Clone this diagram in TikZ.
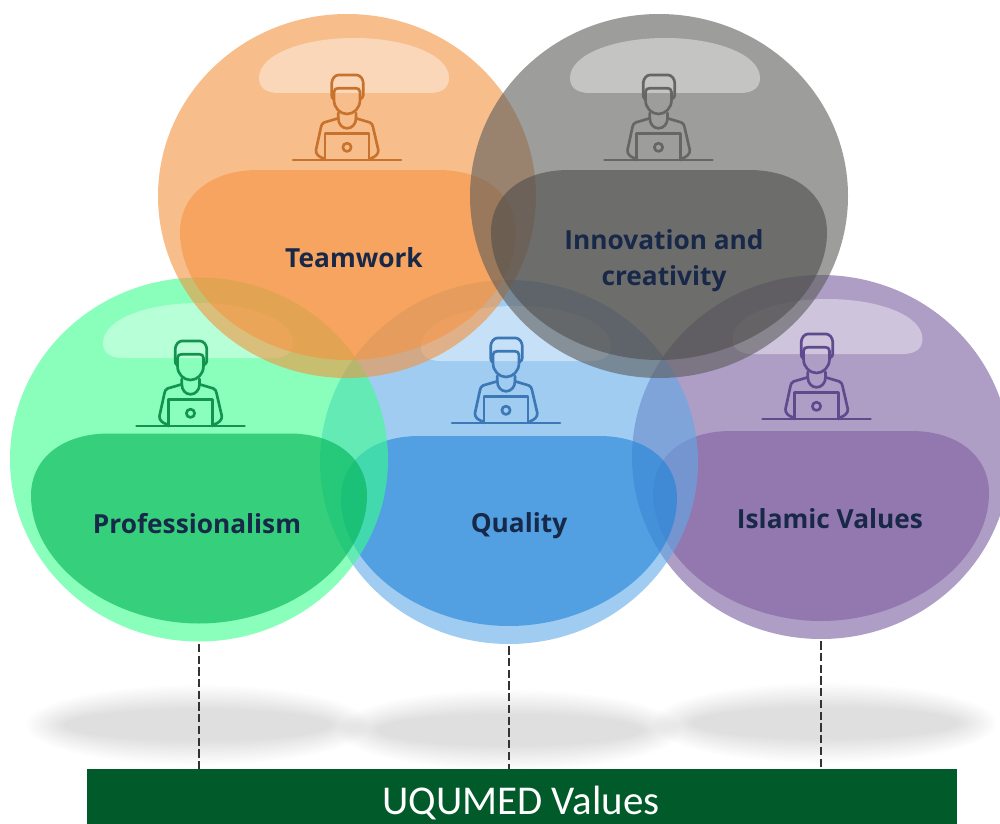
\documentclass[tikz,border=0pt]{standalone}
\usepackage{fontspec}
\usetikzlibrary{shapes.geometric}
\setmainfont{Open Sans}
\newfontfamily\barfont{Carlito}
\definecolor{oraO}{HTML}{F2933F}\definecolor{oraI}{HTML}{F59441}\definecolor{oraL}{HTML}{C8732D}
\definecolor{greyO}{HTML}{5C5C5A}\definecolor{greyI}{HTML}{4E4E4C}\definecolor{greyL}{HTML}{666664}
\definecolor{grnO}{HTML}{3AFF8E}\definecolor{grnI}{HTML}{00B152}\definecolor{grnL}{HTML}{12944E}
\definecolor{bluO}{HTML}{61AAE8}\definecolor{bluI}{HTML}{1E84D9}\definecolor{bluL}{HTML}{3B78B5}
\definecolor{purO}{HTML}{785C9E}\definecolor{purI}{HTML}{805F9E}\definecolor{purL}{HTML}{5F4A8E}
\definecolor{navyT}{HTML}{182848}
\definecolor{barG}{HTML}{015A29}
\tikzset{
  x=0.75pt,y=-0.75pt,
  bubble/.style={ellipse,draw=none,inner sep=0pt,minimum width=283.5pt,minimum height=273pt,fill opacity=.6},
  label/.style={font=\fontsize{19.7}{27}\selectfont\bfseries,text=navyT,align=center,inner sep=0pt},
  conn/.style={draw=black!80,line width=1pt,dash pattern=on 6.2pt off 2.6pt,shorten <=1.5pt},
  blob/.pic={\fill[fill opacity=.6,pic actions]
    (-90,-26) -- (90,-26) .. controls (138,-26) and (168,0) .. (168,36)
    .. controls (168,105) and (88,164) .. (0,164)
    .. controls (-88,164) and (-168,105) .. (-168,36)
    .. controls (-168,0) and (-138,-26) .. (-90,-26) -- cycle;},
  shine/.pic={\fill[white,fill opacity=.4]
    (-75,27) -- (75,27) .. controls (90,27) and (95,20) .. (95,12)
    .. controls (95,-12) and (50,-28) .. (0,-28)
    .. controls (-50,-28) and (-95,-12) .. (-95,12)
    .. controls (-95,20) and (-90,27) .. (-75,27) -- cycle;},
  person/.pic={
    \begin{scope}[line width=2pt,line cap=round,line join=round,pic actions,fill=none]
    \draw (-54,0) -- (54,0);
    \draw (-13.5,-61) .. controls (-15,-62) and (-15.3,-63) .. (-15.3,-65) -- (-15.3,-76.7) .. controls (-15.3,-81) and (-12,-85) .. (-8.7,-85) -- (9.7,-85)
       .. controls (13,-85) and (16.3,-81) .. (16.3,-76.7) -- (16.3,-65) .. controls (16.3,-63) and (15,-62) .. (13.5,-61);
    \draw (-13,-60) -- (-13,-68) .. controls (-13,-71) and (-11,-71.7) .. (-8.7,-71.7) -- (9,-71.7)
       .. controls (11,-71.7) and (13,-71) .. (13,-68) -- (13,-60)
       .. controls (13,-52) and (7,-46) .. (0,-46) .. controls (-7,-46) and (-13,-52) .. (-13,-60);
    \draw (-8.7,-47) -- (-8.7,-41.7) .. controls (-8.7,-36) and (-5,-31.7) .. (0,-31.7)
       .. controls (5,-31.7) and (9,-36) .. (9,-41.7) -- (9,-47);
    \draw (-8.7,-41.7) -- (-23,-37.5) .. controls (-25,-36.5) and (-25.5,-35) .. (-26,-33) -- (-31,-10)
       .. controls (-31.5,-6) and (-28,-3) .. (-23.7,-1.7);
    \draw (9,-41.7) -- (23,-37.5) .. controls (25,-36.5) and (25.5,-35) .. (26,-33) -- (31.3,-10)
       .. controls (31.8,-6) and (28,-3) .. (24,-1.7);
    \draw (-22,0) -- (-22,-26.7) -- (22,-26.7) -- (22,0);
    \draw (0,-12.7) circle[radius=3.1pt];
    \end{scope}}
}
\begin{document}
\begin{tikzpicture}
\clip (0,0) rectangle (1000,824);
% shadows
\foreach \cx/\cy in {198/725,510/730,825/723}{
  \foreach \k in {0,...,15}{
    \fill[black,fill opacity=.0065] (\cx,\cy) ellipse[x radius={(172-2.6*\k)*0.75pt},y radius={(40-1.6*\k)*0.75pt}];
  }
}
% lower bubbles
\node[bubble,fill=purO] (purple) at (821,457) {};
\pic[fill=purI] at (821,457) {blob};
\pic at (827.5,327) {shine};
\node[bubble,fill=bluO] (blue) at (509,462) {};
\pic[fill=bluI] at (509,462) {blob};
\pic at (516,334) {shine};
\node[bubble,fill=grnO] (green) at (199,459.5) {};
\pic[fill=grnI] at (199,459.5) {blob};
\pic at (198,331) {shine};
% upper bubbles
\node[bubble,fill=oraO] (orange) at (347,196) {};
\pic[fill=oraI] at (348,196) {blob};
\pic at (354,66) {shine};
\node[bubble,fill=greyO] (grey) at (659,196) {};
\pic[fill=greyI] at (659,196) {blob};
\pic at (665,66) {shine};
% icons
\pic[draw=oraL] at (347,160) {person};
\pic[draw=greyL] at (658.5,160) {person};
\pic[draw=grnL] at (190.5,426) {person};
\pic[draw=bluL] at (506,423) {person};
\pic[draw=purL] at (816.5,419) {person};
% labels
\node[label] (t1) at (354,257.5) {Teamwork};
\node[label] (t2) at (664,261) {Innovation and\\creativity};
\node[label] (t3) at (197,523.5) {Professionalism};
\node[label] (t4) at (519,526) {Quality};
\node[label] (t5) at (830,518.5) {Islamic Values};
% bar
\node[rectangle,fill=barG,draw=none,inner sep=0pt,minimum width=652pt,minimum height=41.25pt,anchor=north west] (bar) at (87,769) {};
\node[text=white,inner sep=0pt,font=\barfont\fontsize{30.7}{32}\selectfont] (bartext) at (521,803) {UQUMED Values};
% connectors
\draw[conn] (green.south) -- (green.south |- bar.north);
\draw[conn] (blue.south) -- (blue.south |- bar.north);
\draw[conn] (purple.south) -- (purple.south |- bar.north);
\end{tikzpicture}
\end{document}
